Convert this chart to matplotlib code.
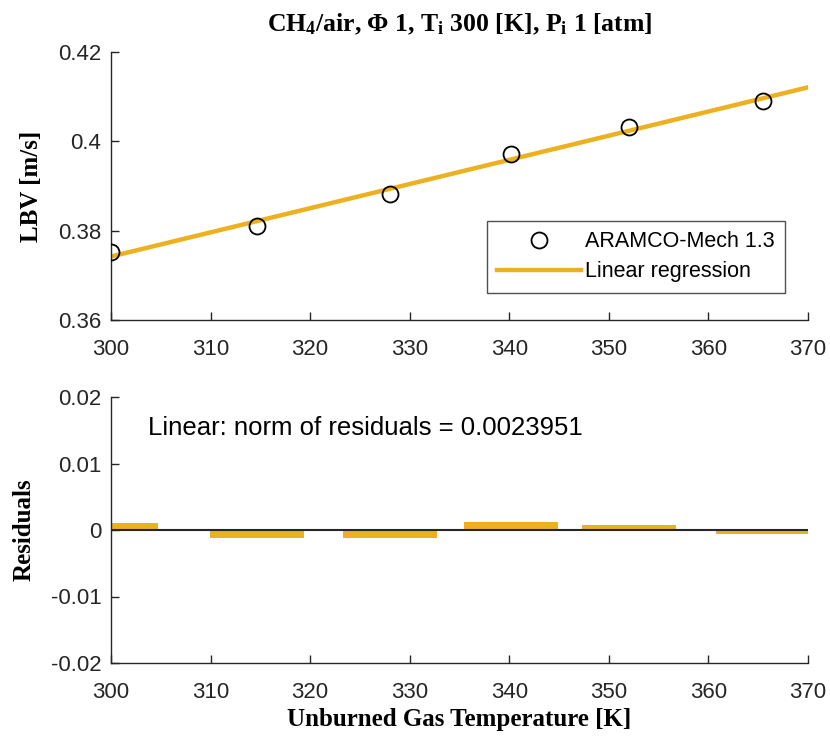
import numpy as np
import matplotlib
matplotlib.use('Agg')
import matplotlib.pyplot as plt

# data
temp = np.array([300.0, 314.7, 328.0, 340.2, 352.0, 365.5])   # unburned gas temperature [K]
lbv = np.array([0.3752, 0.3810, 0.3881, 0.3972, 0.4031, 0.4091])  # LBV [m/s]
norm_txt = 'Linear: norm of residuals = 0.0023951'
series_name = 'ARAMCO-Mech 1.3'
fit_name = 'Linear regression'

x_ticks = [300, 310, 320, 330, 340, 350, 360, 370]
y_ticks_top = [0.36, 0.38, 0.40, 0.42]
y_ticks_bot = [-0.02, -0.01, 0, 0.01, 0.02]

orange = '#EDB120'

plt.rcParams['font.family'] = ['Liberation Sans', 'DejaVu Sans']
plt.rcParams['mathtext.fontset'] = 'custom'
plt.rcParams['mathtext.rm'] = 'Liberation Serif:bold'
plt.rcParams['mathtext.it'] = 'Liberation Serif:bold'
plt.rcParams['mathtext.bf'] = 'Liberation Serif:bold'
serif = dict(family='Liberation Serif', weight='bold')

# linear fit and residuals
coef = np.polyfit(temp, lbv, 1)
xfit = np.array([x_ticks[0], x_ticks[-1]])
yfit = np.polyval(coef, xfit)
resid = lbv - np.polyval(coef, temp)
bw = 0.8 * np.min(np.diff(temp))

fig = plt.figure(figsize=(8.3, 7.37), dpi=100)
W, H = 830, 737
ax1 = fig.add_axes([111 / W, 1 - 320 / H, 697 / W, 268 / H])
ax2 = fig.add_axes([111 / W, 1 - 663 / H, 697 / W, 266 / H])

# top panel
ax1.plot(temp, lbv, 'o', mfc='none', mec='black', ms=11.5, mew=1.3,
         label=series_name, zorder=3)
ax1.plot(xfit, yfit, '-', color=orange, lw=3.2, label=fit_name, zorder=2)
ax1.set_xlim(300, 370)
ax1.set_ylim(0.36, 0.42)
ax1.set_xticks(x_ticks)
ax1.set_yticks(y_ticks_top)
ax1.set_yticklabels(['0.36', '0.38', '0.4', '0.42'])
ax1.set_ylabel('LBV [m/s]', fontsize=18, labelpad=11, **serif)
ax1.set_title(r'CH$_4$/air, $\Phi$ 1, T$_\mathrm{i}$ 300 [K], P$_\mathrm{i}$ 1 [atm]',
              fontsize=18.5, pad=15, **serif)
leg = ax1.legend(loc='lower right', bbox_to_anchor=(0.967, 0.10), borderaxespad=0,
                 fontsize=15.5, frameon=True, fancybox=False, edgecolor='#262626',
                 handlelength=3.9, handletextpad=0.15, borderpad=0.5,
                 labelspacing=0.42)
leg.get_frame().set_linewidth(1.0)

# bottom panel
ax2.bar(temp, resid, width=bw, color=orange, zorder=2)
ax2.axhline(0, color='#262626', lw=1.5, zorder=3)
ax2.set_xlim(300, 370)
ax2.set_ylim(-0.02, 0.02)
ax2.set_xticks(x_ticks)
ax2.set_yticks(y_ticks_bot)
ax2.set_yticklabels(['-0.02', '-0.01', '0', '0.01', '0.02'])
ax2.set_ylabel('Residuals', fontsize=18, labelpad=11, **serif)
ax2.set_xlabel('Unburned Gas Temperature [K]', fontsize=18, labelpad=3, **serif)
ax2.text(303.7, 0.0153, norm_txt, fontsize=18.5, va='center', ha='left')

for ax in (ax1, ax2):
    for s in ('top', 'right'):
        ax.spines[s].set_visible(False)
    for s in ('left', 'bottom'):
        ax.spines[s].set_color('#262626')
        ax.spines[s].set_linewidth(1.0)
    ax.tick_params(direction='in', length=6, width=1.0, labelsize=16,
                   colors='#262626', pad=7)
    ax.tick_params(axis='x', pad=14)

fig.savefig('out.png', dpi=100)
